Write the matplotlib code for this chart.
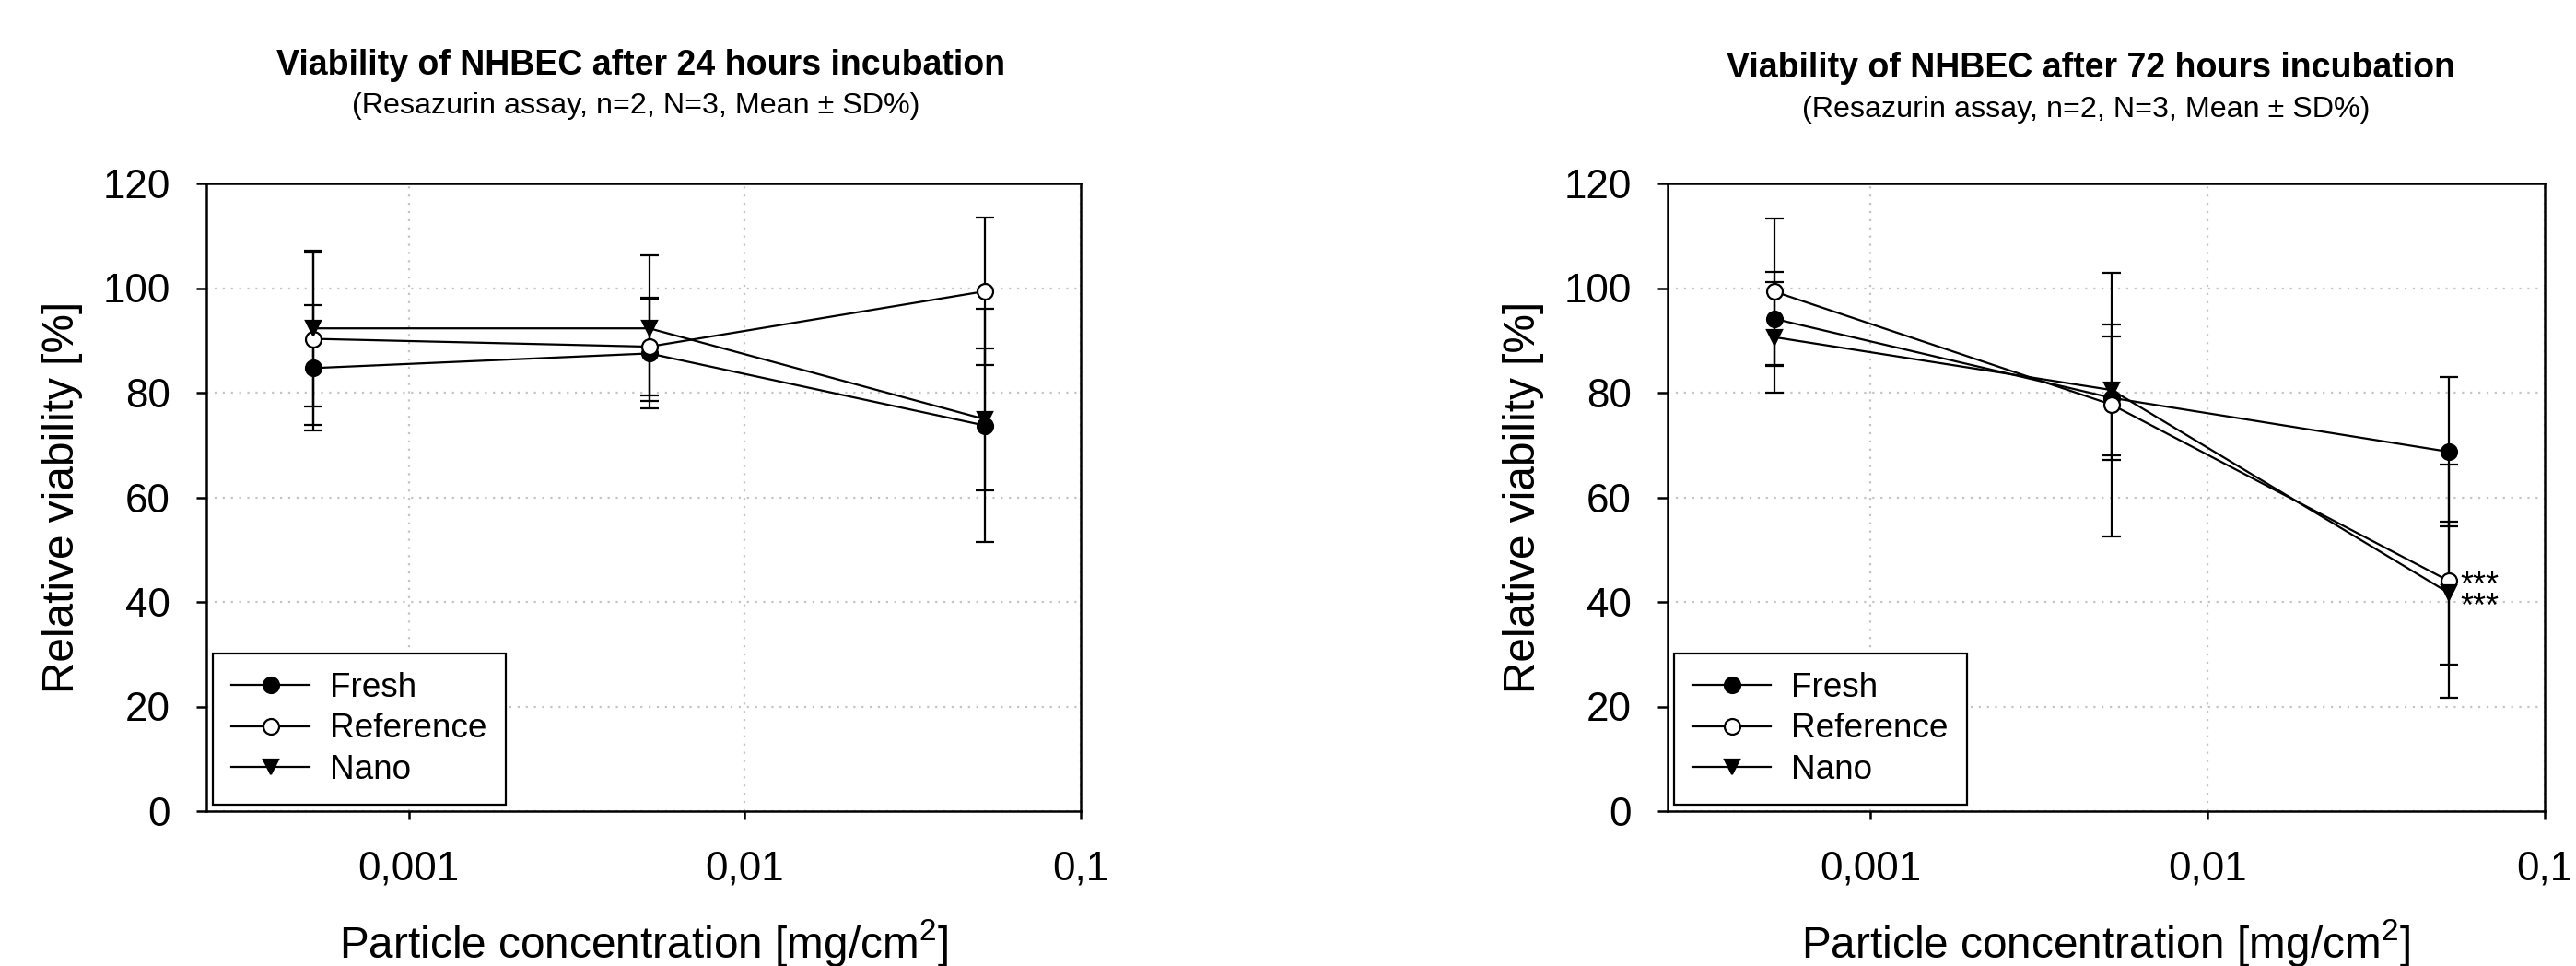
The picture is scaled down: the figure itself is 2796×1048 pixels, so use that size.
import numpy as np
import matplotlib
matplotlib.use("Agg")
import matplotlib.pyplot as plt
from matplotlib.ticker import FixedLocator, FixedFormatter, NullLocator

plt.rcParams['font.family'] = ['Liberation Sans', 'DejaVu Sans']
plt.rcParams['mathtext.fontset'] = 'custom'
plt.rcParams['mathtext.rm'] = 'Liberation Sans'

# particle concentrations [mg/cm2]
conc = [0.00052, 0.0052, 0.052]

# 24 h incubation
fresh_24 = [84.7, 87.5, 73.7]
fresh_24_sd = [12.0, 10.5, 22.3]
ref_24 = [90.3, 88.8, 99.4]
ref_24_sd = [16.5, 9.3, 14.1]
nano_24 = [92.3, 92.3, 74.9]
nano_24_sd = [14.9, 13.9, 13.5]

# 72 h incubation
fresh_72 = [94.1, 79.0, 68.7]
fresh_72_sd = [9.0, 11.8, 14.3]
ref_72 = [99.3, 77.7, 44.0]
ref_72_sd = [14.0, 25.2, 22.3]
nano_72 = [90.6, 80.5, 41.7]
nano_72_sd = [10.6, 12.5, 13.6]

x_ticks = [0.001, 0.01, 0.1]
x_tick_labels = ['0,001', '0,01', '0,1']
y_ticks = [0, 20, 40, 60, 80, 100, 120]

W, H = 2796, 1048
DPI = 200
fig = plt.figure(figsize=(W / DPI, H / DPI), dpi=DPI)

def fx(px):
    return px / W

def fy(px):
    return 1 - px / H

ax1 = fig.add_axes([fx(224), fy(880), fx(1173 - 224), (880 - 199) / H])
ax2 = fig.add_axes([fx(1810), fy(880), fx(2762 - 1810), (880 - 199) / H])

styles = {
    'Fresh': dict(marker='o', mfc='black', mec='black'),
    'Reference': dict(marker='o', mfc='white', mec='black'),
    'Nano': dict(marker='v', mfc='black', mec='black'),
}

def draw_panel(ax, series):
    for name, vals, sds in series:
        ax.errorbar(conc, vals, yerr=sds, fmt='none', ecolor='black',
                    elinewidth=0.8, capsize=3.7, capthick=0.8, zorder=3)
    for name, vals, sds in series:
        ax.plot(conc, vals, color='black', lw=0.8, ms=6.1, mew=0.8,
                label=name, zorder=4, **styles[name])

    ax.set_xscale('log')
    ax.set_xlim(0.00025, 0.1)
    ax.set_ylim(0, 120)
    ax.xaxis.set_major_locator(FixedLocator(x_ticks))
    ax.xaxis.set_major_formatter(FixedFormatter(x_tick_labels))
    ax.xaxis.set_minor_locator(NullLocator())
    ax.yaxis.set_major_locator(FixedLocator(y_ticks))

    ax.grid(True, ls=(0, (1, 3)), color='#c4c4c4', lw=0.8, zorder=0)
    ax.set_axisbelow(True)
    for sp in ax.spines.values():
        sp.set_linewidth(0.9)
    ax.tick_params(axis='x', direction='out', length=3.2, width=0.9,
                   pad=12, labelsize=15.8)
    ax.tick_params(axis='y', direction='out', length=4, width=0.9,
                   pad=10, labelsize=15.8)

    ax.set_xlabel('Particle concentration [mg/cm$^2$]', fontsize=17.2, labelpad=11.5)
    ax.set_ylabel('Relative viability [%]', fontsize=17.2, labelpad=8)

    leg = ax.legend(loc='lower left', bbox_to_anchor=(7 / 949, 7 / 681),
                    borderaxespad=0, fontsize=13.3, frameon=True, fancybox=False,
                    framealpha=1, edgecolor='black', borderpad=0.55,
                    labelspacing=0.25, handlelength=2.3, handletextpad=0.6)
    leg.get_frame().set_linewidth(0.8)

draw_panel(ax1, [('Fresh', fresh_24, fresh_24_sd),
                 ('Reference', ref_24, ref_24_sd),
                 ('Nano', nano_24, nano_24_sd)])
draw_panel(ax2, [('Fresh', fresh_72, fresh_72_sd),
                 ('Reference', ref_72, ref_72_sd),
                 ('Nano', nano_72, nano_72_sd)])

# significance marks at the highest concentration (72 h): Reference and Nano
ax2.annotate('***\n***', xy=(conc[2], ref_72[2]), xytext=(4.5, 4),
             textcoords='offset points', ha='left', va='top',
             fontsize=13, linespacing=0.55)

fig.text(fx(695.5), fy(81), 'Viability of NHBEC after 24 hours incubation',
         ha='center', va='baseline', fontsize=13.5, fontweight='bold')
fig.text(fx(690), fy(122.7), '(Resazurin assay, n=2, N=3, Mean \u00b1 SD%)',
         ha='center', va='baseline', fontsize=11.6)
fig.text(fx(2270), fy(84), 'Viability of NHBEC after 72 hours incubation',
         ha='center', va='baseline', fontsize=13.5, fontweight='bold')
fig.text(fx(2264), fy(127), '(Resazurin assay, n=2, N=3, Mean \u00b1 SD%)',
         ha='center', va='baseline', fontsize=11.6)

fig.savefig('out.png', dpi=DPI)
